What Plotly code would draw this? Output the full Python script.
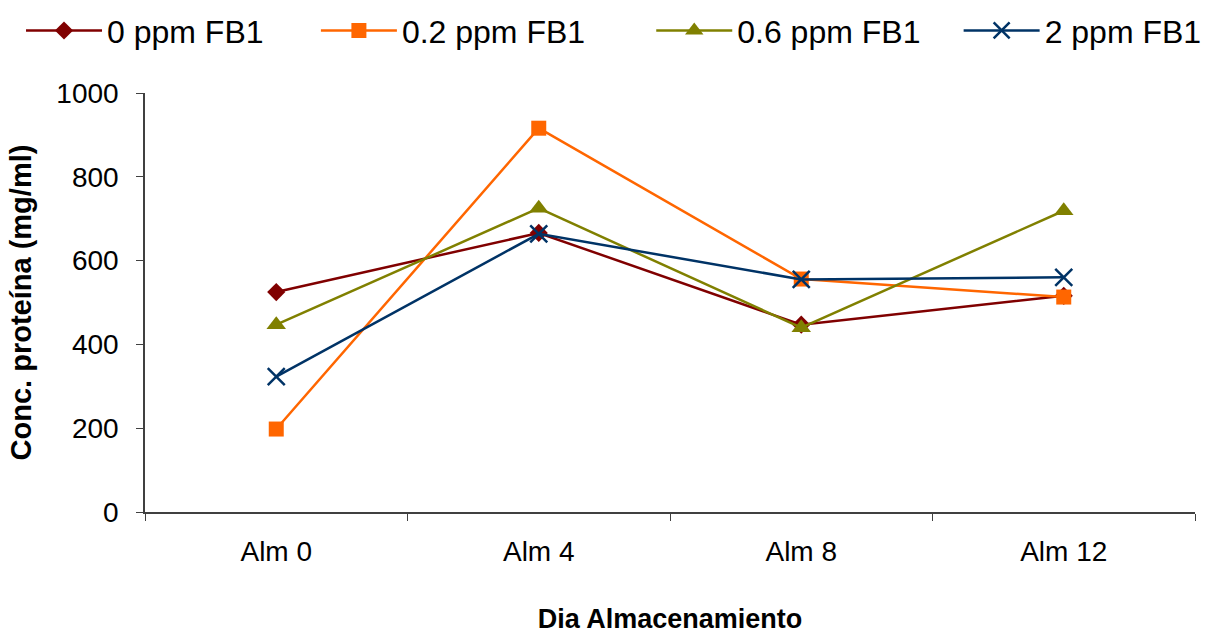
import plotly.graph_objects as go

# Storage day categories
dias = ["Alm 0", "Alm 4", "Alm 8", "Alm 12"]

# Protein concentration (mg/ml) per FB1 dose
ppm_0 = [525, 666, 447, 516]
ppm_02 = [198, 916, 556, 513]
ppm_06 = [447, 725, 440, 719]
ppm_2 = [323, 664, 555, 560]

series = [
    ("0 ppm FB1", ppm_0, "#800000", "diamond", 14),
    ("0.2 ppm FB1", ppm_02, "#FF6600", "square", 15),
    ("0.6 ppm FB1", ppm_06, "#808000", "triangle-up", 17),
    ("2 ppm FB1", ppm_2, "#003366", "x-thin", 17),
]

# one legend box per entry, laid out in a single row across the top
legend_ids = ["legend", "legend2", "legend3", "legend4"]
legend_x = [0.0173, 0.260, 0.536, 0.789]

font_family = "Liberation Sans, Arial, sans-serif"
axis_color = "#404040"

fig = go.Figure()
for (name, vals, color, symbol, size), lid in zip(series, legend_ids):
    marker = dict(symbol=symbol, size=size, color=color)
    if symbol == "x-thin":
        marker["line"] = dict(color=color, width=2.5)
    fig.add_trace(go.Scatter(
        x=dias, y=vals, name=name, mode="lines+markers",
        line=dict(color=color, width=2.5), marker=marker, legend=lid,
    ))

legend_style = dict(
    orientation="h", y=0.995, xref="container", yref="container",
    xanchor="left", yanchor="top",
    font=dict(size=32, family=font_family), itemwidth=76,
    bgcolor="rgba(0,0,0,0)",
)

fig.update_layout(
    width=1215, height=638,
    margin=dict(l=145, r=20, t=93, b=126, autoexpand=False),
    paper_bgcolor="white", plot_bgcolor="white",
    font=dict(family=font_family, color="black"),
    showlegend=True,
    xaxis=dict(
        type="category", range=[-0.5, 3.5], tickson="boundaries",
        ticks="outside", ticklen=7, tickcolor=axis_color,
        showline=True, linecolor=axis_color, linewidth=1.5,
        showgrid=False, zeroline=False,
        tickfont=dict(size=28), ticklabelstandoff=14,
        title=dict(text="<b>Dia Almacenamiento</b>", font=dict(size=27), standoff=43),
    ),
    yaxis=dict(
        range=[0, 1000], tickmode="array", tickvals=[0, 200, 400, 600, 800, 1000],
        ticks="outside", ticklen=7, tickcolor=axis_color,
        showline=True, linecolor=axis_color, linewidth=1.5,
        showgrid=False, zeroline=False,
        tickfont=dict(size=28), ticklabelstandoff=12,
        title=dict(text="<b>Conc. proteína (mg/ml)</b>", font=dict(size=29), standoff=16),
    ),
)
for lid, lx in zip(legend_ids, legend_x):
    fig.update_layout({lid: dict(legend_style, x=lx)})

fig.write_html("out.html")
